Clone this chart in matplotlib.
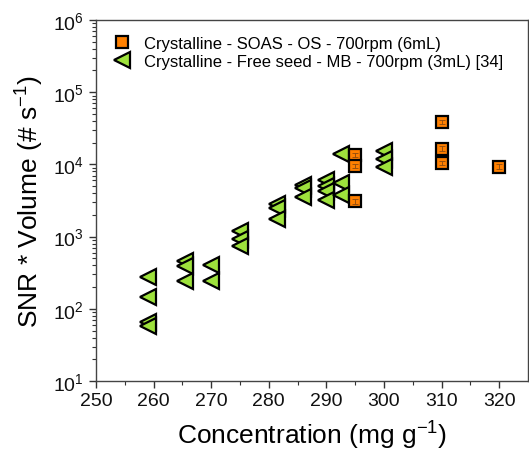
import math
import matplotlib
matplotlib.use("Agg")
import matplotlib.pyplot as plt
from matplotlib.ticker import LogLocator, FixedLocator, NullFormatter, FuncFormatter

plt.rcParams['font.family'] = ['Liberation Sans', 'DejaVu Sans']
plt.rcParams['mathtext.fontset'] = 'custom'
plt.rcParams['mathtext.rm'] = 'Liberation Sans'
plt.rcParams['mathtext.it'] = 'Liberation Sans:italic'
plt.rcParams['mathtext.bf'] = 'Liberation Sans:bold'

# SOAS oscillatory seed (6 mL)
soas_conc = [295, 295, 295, 310, 310, 310, 320]
soas_snr = [13500, 9500, 3100, 39000, 16500, 10500, 9300]
soas_err = [1000, 700, 230, 2800, 1200, 800, 700]

# Free seed magnetic bar (3 mL), ref. [34]
free_conc = [259, 259, 259, 259,
             265.5, 265.5, 265.5,
             270, 270,
             275, 275, 275,
             281.5, 281.5, 281.5,
             286, 286, 286,
             290, 290, 290, 290,
             292.5, 292.5, 292.5,
             300, 300, 300]
free_snr = [276, 146, 66, 58,
            460, 390, 240,
            405, 240,
            1180, 930, 740,
            2800, 2500, 1750,
            5200, 4700, 3500,
            6000, 5000, 4300, 3200,
            13900, 5500, 3800,
            15300, 11900, 9200]

label_soas = "Crystalline - SOAS - OS - 700rpm (6mL)"
label_free = "Crystalline - Free seed - MB - 700rpm (3mL) [34]"

fig = plt.figure(figsize=(5.29, 4.56), dpi=100)
ax = fig.add_axes([96/529, 1-382/456, 432/529, 361/456])

ax.plot(free_conc, free_snr, linestyle='none', marker='<', markersize=12,
        markerfacecolor='#9ee23c', markeredgecolor='black', markeredgewidth=1.6,
        label=label_free, zorder=3)
ax.plot(soas_conc, soas_snr, linestyle='none', marker='s', markersize=9,
        markerfacecolor='#ff8000', markeredgecolor='black', markeredgewidth=1.6,
        label=label_soas, zorder=4)
ax.errorbar(soas_conc, soas_snr, yerr=soas_err, fmt='none', ecolor='#8a4a10',
            elinewidth=0.6, capsize=2.5, capthick=0.6, zorder=5)

ax.set_yscale('log')
ax.set_xlim(250, 325)
ax.set_ylim(10, 1e6)

ax.xaxis.set_major_locator(FixedLocator([250, 260, 270, 280, 290, 300, 310, 320]))
ax.xaxis.set_minor_locator(FixedLocator([255, 265, 275, 285, 295, 305, 315]))
ax.yaxis.set_major_locator(LogLocator(base=10, numticks=10))
ax.yaxis.set_minor_locator(LogLocator(base=10, subs=range(2, 10), numticks=20))
ax.yaxis.set_minor_formatter(NullFormatter())
ax.yaxis.set_major_formatter(
    FuncFormatter(lambda v, p: r'$\mathregular{10^{%d}}$' % round(math.log10(v))))

ax.tick_params(which='major', direction='out', length=5, width=1, labelsize=14,
               color='#333333', labelcolor='#111111')
ax.tick_params(which='minor', direction='out', length=3, width=0.8, color='#333333')
ax.tick_params(axis='x', pad=3)
for s in ax.spines.values():
    s.set_linewidth(1.0)
    s.set_color('#444444')

ax.set_xlabel(r'Concentration (mg g$^{\mathregular{-1}}$)', fontsize=19, labelpad=7)
ax.set_ylabel(r'SNR * Volume (# s$^{\mathregular{-1}}$)', fontsize=19, labelpad=5)

h, l = ax.get_legend_handles_labels()
ax.legend(h[::-1], l[::-1], loc='upper left', frameon=False, fontsize=12,
          bbox_to_anchor=(0.0, 1.0), handletextpad=0.7, borderaxespad=0.55,
          labelspacing=0.2, handlelength=1.2)

fig.savefig('out.png', dpi=100)
